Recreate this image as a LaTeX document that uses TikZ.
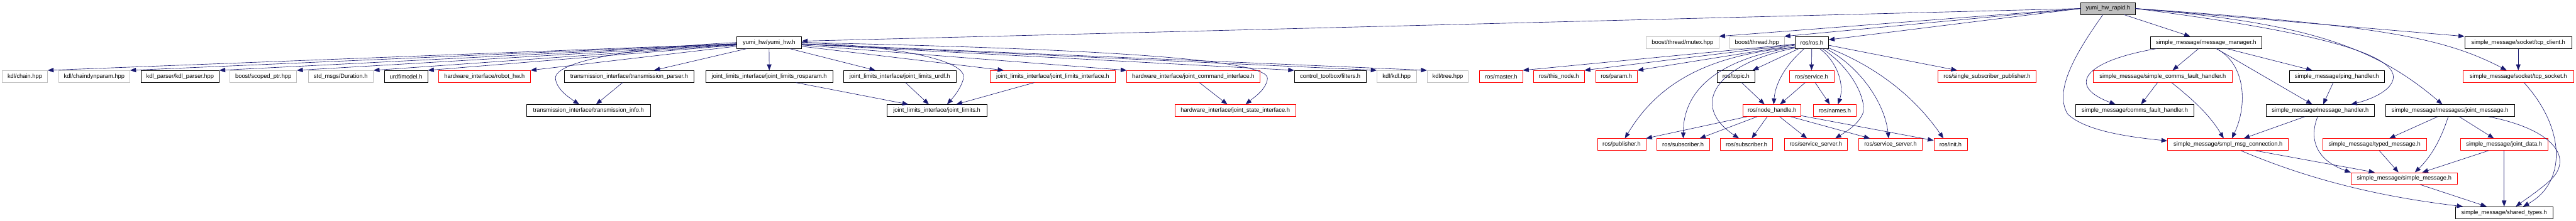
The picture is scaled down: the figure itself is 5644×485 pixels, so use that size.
\documentclass[tikz,border=0pt]{standalone}
\usepackage{fontspec}
\setmainfont{Liberation Sans}
\usetikzlibrary{arrows.meta}
\definecolor{edgeblue}{HTML}{191970}
\definecolor{greyb}{HTML}{BFBFBF}
\begin{document}
\begin{tikzpicture}[x=1pt,y=-1pt,
  gnode/.style={draw, line width=1pt, minimum height=26pt, inner sep=0pt, fill=white,
    font=\fontsize{12.85}{14}\selectfont, text=black},
  blk/.style={gnode, draw=black},
  gry/.style={gnode, draw=greyb},
  rd/.style={gnode, draw=red},
  rootn/.style={gnode, draw=black, fill=greyb},
  e/.style={draw=edgeblue, line width=0.9pt, -{Triangle[length=13pt,width=10pt]}}]
\useasboundingbox (0,0) rectangle (5644,485);
% row 0
\node[rootn, minimum width=119pt] (root) at (4618.5,18.7) {yumi\_hw\_rapid.h};
% row 1
\node[blk, minimum width=142pt] (yumihw) at (1685,93.3) {yumi\_hw/yumi\_hw.h};
\node[gry, minimum width=159pt] (mutex) at (3686.5,93.3) {boost/thread/mutex.hpp};
\node[gry, minimum width=119pt] (thread) at (3849.5,93.3) {boost/thread.hpp};
\node[blk, minimum width=73pt] (ros) at (3969.5,93.3) {ros/ros.h};
\node[blk, minimum width=245pt] (msgmgr) at (4833.5,93.3) {simple\_message/message\_manager.h};
\node[blk, minimum width=235pt] (tcpclient) at (5517.5,93.3) {simple\_message/socket/tcp\_client.h};
% row 2
\node[gry, minimum width=99pt] (chain) at (54.5,167.8) {kdl/chain.hpp};
\node[gry, minimum width=156pt] (chaindyn) at (206.5,167.8) {kdl/chaindynparam.hpp};
\node[blk, minimum width=171pt] (kdlparser) at (394.5,167.8) {kdl\_parser/kdl\_parser.hpp};
\node[gry, minimum width=146pt] (scoped) at (577,167.8) {boost/scoped\_ptr.hpp};
\node[gry, minimum width=143pt] (duration) at (746.5,167.8) {std\_msgs/Duration.h};
\node[blk, minimum width=95pt] (urdf) at (889.5,167.8) {urdf/model.h};
\node[rd, minimum width=201pt] (robothw) at (1061.5,167.8) {hardware\_interface/robot\_hw.h};
\node[blk, minimum width=285pt] (tparser) at (1378.5,167.8) {transmission\_interface/transmission\_parser.h};
\node[blk, minimum width=279pt] (jlros) at (1685.5,167.8) {joint\_limits\_interface/joint\_limits\_rosparam.h};
\node[blk, minimum width=247pt] (jlurdf) at (1971.5,167.8) {joint\_limits\_interface/joint\_limits\_urdf.h};
\node[rd, minimum width=275pt] (jlif) at (2306.5,167.8) {joint\_limits\_interface/joint\_limits\_interface.h};
\node[rd, minimum width=291pt] (jcmd) at (2614.5,167.8) {hardware\_interface/joint\_command\_interface.h};
\node[blk, minimum width=157pt] (filters) at (2914.5,167.8) {control\_toolbox/filters.h};
\node[gry, minimum width=86pt] (kdlkdl) at (3060,167.8) {kdl/kdl.hpp};
\node[gry, minimum width=90pt] (tree) at (3172,167.8) {kdl/tree.hpp};
\node[rd, minimum width=94pt] (master) at (3289,167.8) {ros/master.h};
\node[rd, minimum width=111pt] (thisnode) at (3415.5,167.8) {ros/this\_node.h};
\node[rd, minimum width=91pt] (param) at (3541.5,167.8) {ros/param.h};
\node[blk, minimum width=83pt] (topic) at (3803.5,167.8) {ros/topic.h};
\node[rd, minimum width=98pt] (service) at (3969,167.8) {ros/service.h};
\node[rd, minimum width=215pt] (ssp) at (4353.5,167.8) {ros/single\_subscriber\_publisher.h};
\node[rd, minimum width=305pt] (scfh) at (4738.5,167.8) {simple\_message/simple\_comms\_fault\_handler.h};
\node[blk, minimum width=208pt] (ping) at (5120,167.8) {simple\_message/ping\_handler.h};
\node[rd, minimum width=243pt] (tcpsocket) at (5517.5,167.8) {simple\_message/socket/tcp\_socket.h};
% row 3
\node[blk, minimum width=271pt] (tinfo) at (1289.5,242.5) {transmission\_interface/transmission\_info.h};
\node[blk, minimum width=219pt] (jl) at (2052.5,242.5) {joint\_limits\_interface/joint\_limits.h};
\node[rd, minimum width=265pt] (jstate) at (2706.5,242.5) {hardware\_interface/joint\_state\_interface.h};
\node[rd, minimum width=127pt] (nh) at (3882.5,242.5) {ros/node\_handle.h};
\node[rd, minimum width=94pt] (names) at (4020,242.5) {ros/names.h};
\node[blk, minimum width=259pt] (cfh) at (4677.5,242.5) {simple\_message/comms\_fault\_handler.h};
\node[blk, minimum width=237pt] (msghandler) at (5083.5,242.5) {simple\_message/message\_handler.h};
\node[blk, minimum width=282pt] (jmsg) at (5368,242.5) {simple\_message/messages/joint\_message.h};
% row 4
\node[rd, minimum width=106pt] (pub) at (3553,317.2) {ros/publisher.h};
\node[rd, minimum width=115pt] (sub1) at (3687.5,317.2) {ros/subscriber.h};
\node[rd, minimum width=115pt] (sub2) at (3826.5,317.2) {ros/subscriber.h};
\node[rd, minimum width=139pt] (ss1) at (3978.5,317.2) {ros/service\_server.h};
\node[rd, minimum width=140pt] (ss2) at (4142,317.2) {ros/service\_server.h};
\node[rd, minimum width=73pt] (init) at (4273.5,317.2) {ros/init.h};
\node[rd, minimum width=265pt] (conn) at (4881.5,317.2) {simple\_message/smpl\_msg\_connection.h};
\node[rd, minimum width=227pt] (typed) at (5202.5,317.2) {simple\_message/typed\_message.h};
\node[rd, minimum width=191pt] (jdata) at (5486.5,317.2) {simple\_message/joint\_data.h};
% row 5
\node[rd, minimum width=233pt] (smsg) at (5267.5,391.8) {simple\_message/simple\_message.h};
% row 6
\node[blk, minimum width=213pt] (shared) at (5486.5,466.7) {simple\_message/shared\_types.h};

% root edges
\draw[e] (root.west) -- ([yshift=3pt]yumihw.east);
\draw[e] (root.west) -- (mutex.north east);
\draw[e] (root.west) -- (thread.north east);
\draw[e] (root.west) -- ([yshift=6pt]ros.east);
\draw[e] ([xshift=35pt]root.south) -- ([xshift=-35pt]msgmgr.north);
\draw[e] ([xshift=-11pt]root.south) .. controls (4545,120) and (4500,200) .. (4530,250)
  .. controls (4570,290) and (4680,302) .. ([yshift=8pt]conn.west);
\draw[e] (root.east) -- (tcpclient.north west);
\draw[e] (root.east) .. controls (5200,55) and (5350,80) .. ([xshift=-25.5pt]tcpsocket.north);
\draw[e] (root.east) .. controls (5050,50) and (5200,100) .. ([xshift=-17pt]jmsg.north);
\draw[e] (root.east) .. controls (5000,60) and (5260,110) .. (5243,175)
  .. controls (5235,205) and (5180,222) .. ([xshift=67.5pt]msghandler.north);
% yumi_hw edges
\draw[e] (yumihw) -- (chain.north east);
\draw[e] (yumihw) -- (chaindyn.north east);
\draw[e] (yumihw) -- (kdlparser.north east);
\draw[e] (yumihw) -- (scoped.north east);
\draw[e] (yumihw) -- (duration.north east);
\draw[e] (yumihw) -- (urdf.north east);
\draw[e] (yumihw) -- (robothw.north east);
\draw[e] ([xshift=-49pt]yumihw.south) -- ([xshift=54.5pt]tparser.north);
\draw[e] (yumihw.west) .. controls (1380,105) and (1215,135) .. (1217,172)
  .. controls (1219,195) and (1245,213) .. ([xshift=-20.5pt]tinfo.north);
\draw[e] (yumihw.south) -- (jlros.north);
\draw[e] ([xshift=45pt]yumihw.south) -- ([xshift=-53.5pt]jlurdf.north);
\draw[e] (yumihw.east) .. controls (1950,100) and (2120,130) .. (2111,172)
  .. controls (2105,195) and (2090,212) .. ([xshift=22.5pt]jl.north);
\draw[e] (yumihw) -- ([xshift=-107.5pt]jlif.north);
\draw[e] (yumihw) -- (jcmd.north west);
\draw[e] (yumihw.east) .. controls (2300,105) and (2780,125) .. (2777,172)
  .. controls (2775,195) and (2750,212) .. ([xshift=22.5pt]jstate.north);
\draw[e] (yumihw) -- (filters.north west);
\draw[e] (yumihw) -- (kdlkdl.north west);
\draw[e] (yumihw) -- (tree.north west);
% left lower edges
\draw[e] ([xshift=-14.5pt]tparser.south) -- ([xshift=16.5pt]tinfo.north);
\draw[e] ([xshift=58.5pt]jlros.south) -- ([xshift=-62.5pt]jl.north);
\draw[e] ([xshift=12.5pt]jlurdf.south) -- ([xshift=-17.5pt]jl.north);
\draw[e] ([xshift=-40.5pt]jlif.south) -- ([xshift=42.5pt]jl.north);
\draw[e] ([xshift=13.5pt]jcmd.south) -- ([xshift=-17.5pt]jstate.north);
% ros edges
\draw[e] (ros) -- (master.north east);
\draw[e] (ros) -- (thisnode.north east);
\draw[e] (ros) -- (param.north east);
\draw[e] ([xshift=-28.5pt]ros.south) -- ([xshift=36.5pt]topic.north);
\draw[e] ([yshift=-10pt]ros.west) .. controls (3760,120) and (3640,170) .. ([xshift=7pt]pub.north);
\draw[e] ([yshift=-10pt]ros.west) .. controls (3760,130) and (3688,200) .. ([xshift=0.5pt]sub1.north);
\draw[e] ([yshift=-12pt]ros.west) .. controls (3760,140) and (3700,230) .. ([xshift=-16.5pt]sub2.north);
\draw[e] ([xshift=-16.5pt]ros.south) .. controls (3915,140) and (3890,180) .. ([xshift=3.5pt]nh.north);
\draw[e] (ros.south) -- (service.north);
\draw[e] ([xshift=17.5pt]ros.south) .. controls (4030,140) and (4040,190) .. ([xshift=7pt]names.north);
\draw[e] ([xshift=23.5pt]ros.south) .. controls (4070,160) and (4090,230) .. (4081,250)
  .. controls (4070,275) and (4040,292) .. ([xshift=42.5pt]ss1.north);
\draw[e] ([xshift=31.5pt]ros.south) .. controls (4080,150) and (4130,230) .. ([xshift=-4pt]ss2.north);
\draw[e] ([yshift=-12pt]ros.east) .. controls (4120,150) and (4200,220) .. ([xshift=-15.5pt]init.north);
\draw[e] ([yshift=-6pt]ros.east) -- ([xshift=-65.5pt]ssp.north);
\draw[e] ([xshift=12.5pt]topic.south) -- ([xshift=-16.5pt]nh.north);
\draw[e] ([xshift=-14pt]service.south) -- ([xshift=17.5pt]nh.north);
\draw[e] ([xshift=8pt]service.south) -- ([xshift=-11pt]names.north);
\draw[e] ([xshift=-54.5pt]nh.south) -- (pub.north east);
\draw[e] ([xshift=-32.5pt]nh.south) -- ([xshift=36.5pt]sub1.north);
\draw[e] ([xshift=-10.5pt]nh.south) -- ([xshift=11.5pt]sub2.north);
\draw[e] ([xshift=16.5pt]nh.south) -- ([xshift=-19.5pt]ss1.north);
\draw[e] ([xshift=40.5pt]nh.south) -- ([xshift=-45pt]ss2.north);
\draw[e] ([yshift=-11.5pt]nh.east) -- ([yshift=9pt]init.west);
% simple_message edges
\draw[e] ([xshift=-108.5pt]msgmgr.south) .. controls (4560,135) and (4530,190) .. ([xshift=-42.5pt]cfh.north);
\draw[e] ([xshift=-16.5pt]msgmgr.south) -- ([xshift=21.5pt]scfh.north);
\draw[e] ([xshift=22.5pt]msgmgr.south) .. controls (4920,140) and (4925,230) .. ([xshift=8.5pt]conn.north);
\draw[e] ([xshift=22.5pt]msgmgr.south) -- ([xshift=-17.5pt]msghandler.north);
\draw[e] ([xshift=45.5pt]msgmgr.south) -- ([xshift=-54pt]ping.north);
\draw[e] ([xshift=-11.5pt]scfh.south) -- ([xshift=13.5pt]cfh.north);
\draw[e] ([xshift=19.5pt]scfh.south) .. controls (4800,215) and (4840,250) .. ([xshift=-9.5pt]conn.north);
\draw[e] ([xshift=-8pt]ping.south) -- ([xshift=6.5pt]msghandler.north);
\draw[e] ([xshift=-33.5pt]msghandler.south) -- ([xshift=34.5pt]conn.north);
\draw[e] ([xshift=-5.5pt]msghandler.south) .. controls (5060,300) and (5070,350) .. (smsg.north west);
\draw[e] ([xshift=60.5pt]conn.south) -- ([xshift=-64.5pt]smsg.north);
\draw[e] ([xshift=28.5pt]conn.south) .. controls (5050,390) and (5200,430) .. ([xshift=-90.5pt]shared.north);
\draw[e] ([xshift=-27pt]jmsg.south) -- ([xshift=32.5pt]typed.north);
\draw[e] ([xshift=-4pt]jmsg.south) .. controls (5350,300) and (5330,340) .. ([xshift=23.5pt]smsg.north);
\draw[e] ([xshift=20pt]jmsg.south) -- ([xshift=-22.5pt]jdata.north);
\draw[e] ([xshift=84pt]jmsg.south) .. controls (5600,285) and (5640,350) .. (5585,398)
  .. controls (5560,420) and (5530,440) .. ([xshift=25.5pt]shared.north);
\draw[e] ([xshift=10.5pt]typed.south) -- ([xshift=-12.5pt]smsg.north);
\draw[e] ([xshift=-34.5pt]jdata.south) -- ([xshift=39.5pt]smsg.north);
\draw[e] (jdata.south) -- (shared.north);
\draw[e] ([xshift=35.5pt]smsg.south) -- ([xshift=-38.5pt]shared.north);
\draw[e] (tcpclient.south) -- (tcpsocket.north);
\draw[e] ([xshift=12.5pt]tcpsocket.south) .. controls (5620,280) and (5625,400) .. ([xshift=41.5pt]shared.north);
\end{tikzpicture}
\end{document}
